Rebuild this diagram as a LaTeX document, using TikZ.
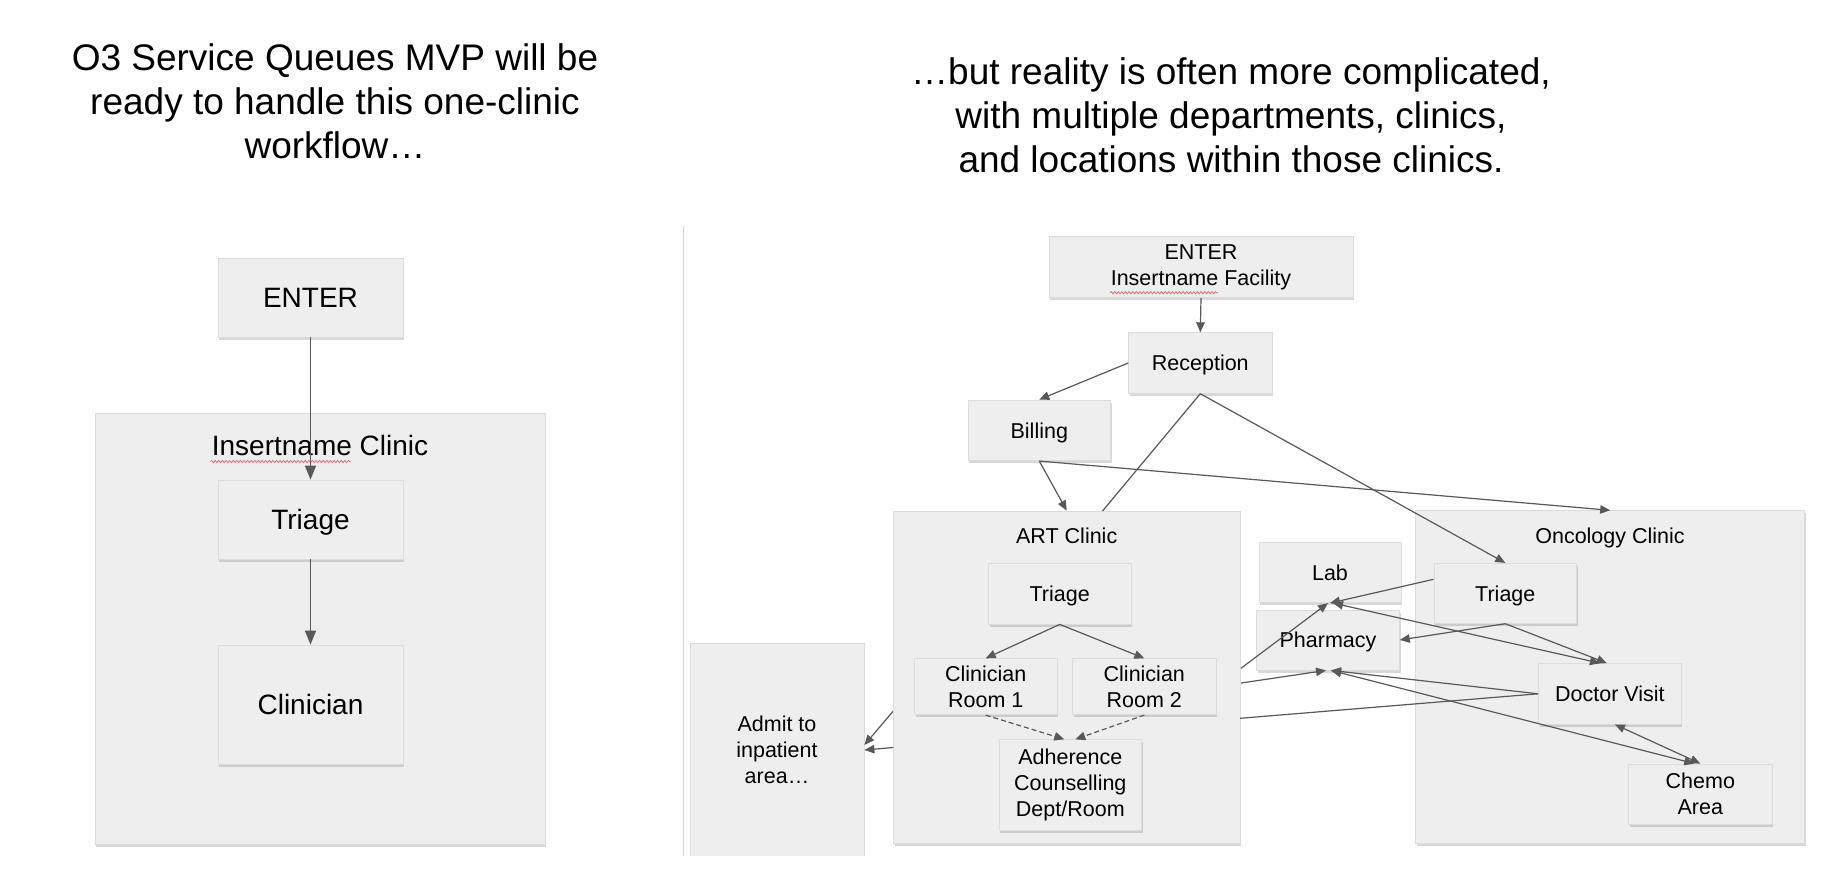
\documentclass[tikz,border=0pt]{standalone}
\usepackage{fontspec}
\setmainfont{Liberation Sans}
\usetikzlibrary{arrows.meta,shadows,calc,decorations.pathmorphing}
\pgfdeclarelayer{back}
\pgfdeclarelayer{mid}
\pgfdeclarelayer{artl}
\pgfsetlayers{back,mid,artl,main}
\definecolor{boxfill}{HTML}{EEEEEE}
\definecolor{boxedge}{HTML}{DCDCDC}
\definecolor{linec}{HTML}{595959}
\definecolor{sepc}{HTML}{D6D6D6}
\definecolor{squig}{HTML}{E06666}
\begin{document}
\begin{tikzpicture}[x=1pt,y=-1pt,
  box/.style={rectangle, fill=boxfill, draw=boxedge, line width=0.8pt, inner sep=0pt, align=center,
    drop shadow={shadow xshift=1.2pt, shadow yshift=-2.6pt, opacity=0.3}},
  sz/.style 2 args={minimum width=#1pt, minimum height=#2pt},
  txs/.style={font=\fontsize{21.5}{26}\selectfont},
  txl/.style={font=\fontsize{28}{33}\selectfont},
  ones/.style={text height=15.4pt, text depth=0pt},
  onel/.style={text height=20pt, text depth=0pt},
  txt/.style={font=\fontsize{37}{44}\selectfont, align=center, inner sep=0pt},
  conn/.style={draw=linec, line width=1.2pt, -{Triangle[length=10pt,width=8.5pt]}},
  biconn/.style={draw=linec, line width=1.2pt, {Triangle[length=10pt,width=8.5pt]}-{Triangle[length=10pt,width=8.5pt]}},
  plainline/.style={draw=linec, line width=1.2pt},
  dconn/.style={conn, dash pattern=on 5pt off 3pt},
  lconn/.style={draw=linec, line width=1.6pt, -{Triangle[length=14pt,width=11pt]}},
  squiggle/.style={draw=squig, line width=0.7pt, decorate, decoration={snake, amplitude=1.1pt, segment length=3.6pt}},
]
\useasboundingbox (0,0) rectangle (1832,868);

\begin{pgfonlayer}{back}
  \fill[white] (0,0) rectangle (1832,868);
  \draw[sepc, line width=1.2pt] (683.5,225.5) -- (683.5,856);
  \node[box, sz={450}{431}] (lcl) at (320,628.5) {};
  \node[box, sz={389}{332.3}] (onc) at (1610.2,676.85) {};
  \node[box, sz={142}{60.4}, txs, ones] (lab) at (1330,572.5) {Lab};
  \node[box, sz={142.6}{60}, txs, ones] (pha) at (1328,640) {Pharmacy};
  \node[box, sz={174}{214}, txs] (adm) at (777,750) {Admit to\\inpatient\\area…};
\end{pgfonlayer}

\begin{pgfonlayer}{artl}
  \node[box, sz={346.7}{332}] (art) at (1066.7,677) {};
\end{pgfonlayer}

% titles
\node[txt, anchor=north] (tl) at (335,43) {O3 Service Queues MVP will be\\ready to handle this one-clinic\\workflow…};
\node[txt, anchor=north] (tr) at (1231,57) {…but reality is often more complicated,\\with multiple departments, clinics,\\and locations within those clinics.};

% left diagram
\node[box, sz={185}{79}, txl, onel] (lent) at (310.5,297.5) {ENTER};
\node[txl, anchor=base, inner sep=0pt] (lcllab) at (320,455) {Insertname Clinic};
\node[box, sz={185}{79}, txl, onel] (ltri) at (310.5,519.5) {Triage};
\node[box, sz={185}{119}, txl, onel] (lclin) at (310.5,704.5) {Clinician};
\draw[squiggle] (210.5,461.5) -- (350.5,461.5);
\draw[lconn] (lent.south) -- (ltri.north);
\draw[lconn] (ltri.south) -- (lclin.north);

% right diagram
\node[box, sz={304}{61}, txs] (renter) at (1201,267.2) {ENTER\\Insertname Facility};
\draw[squiggle] (1110,292.7) -- (1218,292.7);
\node[box, sz={143.3}{60.6}, txs, ones] (rec) at (1200.3,363) {Reception};
\node[box, sz={142.7}{60.7}, txs, ones] (bill) at (1039.3,430.3) {Billing};
\node[txs, anchor=base, inner sep=0pt] (artlab) at (1066.7,543.3) {ART Clinic};
\node[box, sz={142.7}{61}, txs, ones] (atri) at (1059.7,593.5) {Triage};
\node[box, sz={142.7}{56}, txs] (r1) at (985.7,686.7) {Clinician\\Room 1};
\node[box, sz={143.3}{56}, txs] (r2) at (1144.3,686.7) {Clinician\\Room 2};
\node[box, sz={142.7}{90.6}, txs] (adh) at (1070.3,785) {Adherence\\Counselling\\Dept/Room};
\node[txs, anchor=base, inner sep=0pt] (onclab) at (1610,543) {Oncology Clinic};
\node[box, sz={142.7}{60}, txs, ones] (otri) at (1505.3,593.3) {Triage};
\node[box, sz={142.7}{60.5}, txs, ones] (dv) at (1609.9,693.8) {Doctor Visit};
\node[box, sz={143.3}{60.7}, txs] (chemo) at (1700.3,794.3) {Chemo\\Area};

\coordinate (artA) at (1102.5,511);
\coordinate (artB) at (893.3,747.5);
\coordinate (artC) at (1240,718.3);

\begin{pgfonlayer}{mid}
  \draw[conn] (r1.west) -- ($(adm.east)+(0,-5)$);
  \draw[conn] (r2.east) -- ($(lab.south)+(-2,0)$);
  \draw[conn] (r2.east) -- ($(pha.south)+(-2,0)$);
\end{pgfonlayer}

\draw[conn] (renter.south) -- (rec.north);
\draw[conn] (rec.west) -- (bill.north);
\draw[plainline] (rec.south) -- (artA);
\draw[conn] (rec.south) -- (otri.north);
\draw[conn] (bill.south) -- (art.north);
\draw[conn] (bill.south) -- (onc.north);
\draw[conn] (atri.south) -- (r1.north);
\draw[conn] (atri.south) -- (r2.north);
\draw[dconn] (r1.south) -- ($(adh.north)+(-6,0)$);
\draw[dconn] (r2.south) -- ($(adh.north)+(5,0)$);
\draw[conn] (artB) -- (adm.east);
\draw[conn] ($(otri.west)+(0,-14)$) -- (lab.south);
\draw[conn] (otri.south) -- (pha.east);
\draw[conn] (otri.south) -- ($(dv.north)+(-3,0)$);
\draw[biconn] ($(lab.south)+(3,0)$) -- ($(dv.north)+(-10,0)$);
\draw[conn] (dv.west) -- ($(pha.south)+(3,0)$);
\draw[plainline] (dv.west) -- (artC);
\draw[biconn] ($(pha.south)+(3,0)$) -- ($(chemo.north)+(-6,0)$);
\draw[biconn] ($(dv.south)+(5,0)$) -- (chemo.north);

\fill[white] (0,856) rectangle (1832,868);
\end{tikzpicture}
\end{document}
